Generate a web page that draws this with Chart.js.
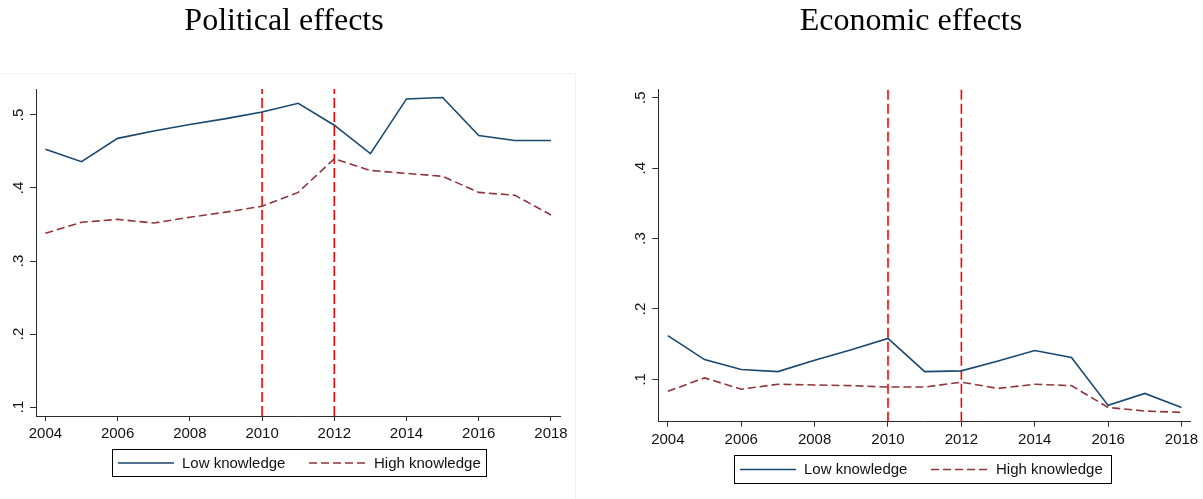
<!DOCTYPE html>
<html>
<head>
<meta charset="utf-8">
<script src="https://cdn.jsdelivr.net/npm/chart.js@4.4.1/dist/chart.umd.min.js"></script>
<style>
  html, body { margin: 0; padding: 0; background: #fff; width: 1203px; height: 499px; overflow: hidden; }
  canvas { position: absolute; top: 0; }
  #pol { left: 0; }
  #eco { left: 590px; }
</style>
</head>
<body>
<canvas id="pol" width="578" height="499"></canvas>
<canvas id="eco" width="613" height="499"></canvas>
<script>
// Survey years
const years = [2004, 2005, 2006, 2007, 2008, 2009, 2010, 2011, 2012, 2013, 2014, 2015, 2016, 2017, 2018];

// Political effects
const polLow  = [0.453, 0.436, 0.468, 0.478, 0.487, 0.495, 0.504, 0.516, 0.486, 0.447, 0.522, 0.524, 0.472, 0.465, 0.465];
const polHigh = [0.338, 0.353, 0.357, 0.352, 0.360, 0.367, 0.375, 0.394, 0.440, 0.424, 0.420, 0.416, 0.394, 0.390, 0.363];

// Economic effects
const ecoLow  = [0.162, 0.128, 0.114, 0.111, 0.127, 0.142, 0.158, 0.111, 0.112, 0.126, 0.141, 0.131, 0.063, 0.080, 0.060];
const ecoHigh = [0.083, 0.102, 0.086, 0.093, 0.092, 0.091, 0.089, 0.089, 0.096, 0.087, 0.093, 0.091, 0.060, 0.055, 0.053];

// Reference years marked with vertical lines
const markYears = [2010, 2012];

// Tick values
const xTicks = [2004, 2006, 2008, 2010, 2012, 2014, 2016, 2018];
const yTicks = [0.1, 0.2, 0.3, 0.4, 0.5];

const seriesLabels = ['Low knowledge', 'High knowledge'];
const NAVY = '#1a476f';
const MAROON = '#90353b';
const AXIS = '#2b2b2b';
const SANS = '"Liberation Sans", Arial, Helvetica, sans-serif';
const SERIF = '"Liberation Serif", "Times New Roman", serif';

// Titles, rotated y labels, boxed legend and panel frame
const panelDecor = {
  id: 'panelDecor',
  afterDraw(chart, args, o) {
    const ctx = chart.ctx;
    const ys = chart.scales.y;
    const area = chart.chartArea;
    ctx.save();

    if (o.frame) {
      ctx.strokeStyle = '#f3f3f3';
      ctx.lineWidth = 1;
      ctx.beginPath();
      ctx.moveTo(0, 73.5);
      ctx.lineTo(575.5, 73.5);
      ctx.lineTo(575.5, 499);
      ctx.stroke();
    }

    ctx.fillStyle = '#000';
    ctx.font = '32px ' + SERIF;
    ctx.textAlign = 'center';
    ctx.textBaseline = 'alphabetic';
    ctx.fillText(o.title, o.titleX, 30);

    ctx.font = '15px ' + SANS;
    ctx.fillStyle = '#111';
    ys.ticks.forEach(t => {
      const py = ys.getPixelForValue(t.value);
      ctx.save();
      ctx.translate(area.left - 13.5, py);
      ctx.rotate(-Math.PI / 2);
      ctx.textAlign = 'center';
      ctx.textBaseline = 'alphabetic';
      ctx.fillText(t.label, 0, 0);
      ctx.restore();
    });

    const L = o.legend;
    ctx.strokeStyle = '#000';
    ctx.lineWidth = 1;
    ctx.strokeRect(Math.round(L.x) + 0.5, Math.round(L.y) + 0.5, L.w, L.h);
    const cy = L.y + L.h / 2 + 0.5;
    const items = [
      { ds: chart.data.datasets[0], x0: 6, x1: 62, tx: 70 },
      { ds: chart.data.datasets[1], x0: 197, x1: 253, tx: 262 }
    ];
    items.forEach(it => {
      ctx.save();
      ctx.strokeStyle = it.ds.borderColor;
      ctx.lineWidth = it.ds.borderWidth;
      ctx.setLineDash(it.ds.borderDash || []);
      ctx.beginPath();
      ctx.moveTo(L.x + it.x0, cy);
      ctx.lineTo(L.x + it.x1, cy);
      ctx.stroke();
      ctx.restore();
      ctx.fillStyle = '#111';
      ctx.font = '15px ' + SANS;
      ctx.textAlign = 'left';
      ctx.textBaseline = 'middle';
      ctx.fillText(it.ds.label, L.x + it.tx, cy + 0.5);
    });
    ctx.restore();
  }
};

function pairs(vals) {
  return years.map((yr, i) => ({ x: yr, y: vals[i] }));
}

function makePanel(id, p) {
  const canvas = document.getElementById(id);
  const W = canvas.width, H = canvas.height;
  const datasets = [
    { label: seriesLabels[0], data: pairs(p.low), borderColor: NAVY, borderWidth: 1.6,
      pointRadius: 0, tension: 0, fill: false },
    { label: seriesLabels[1], data: pairs(p.high), borderColor: MAROON, borderWidth: 1.6,
      borderDash: [8, 4], pointRadius: 0, tension: 0, fill: false }
  ];
  markYears.forEach(yr => {
    datasets.push({ label: '', data: [{ x: yr, y: p.yMin }, { x: yr, y: p.yMax }],
      borderColor: '#ff0000', borderWidth: 1.6, borderDash: [10, 4],
      pointRadius: 0, tension: 0, fill: false });
  });

  return new Chart(canvas, {
    type: 'line',
    data: { datasets },
    options: {
      responsive: false,
      animation: false,
      events: [],
      layout: { padding: { left: 0, top: p.area.top, right: W - p.area.right, bottom: 0 } },
      plugins: {
        legend: { display: false },
        title: { display: false },
        tooltip: { enabled: false },
        panelDecor: { title: p.title, titleX: p.titleX, legend: p.legend, frame: p.frame }
      },
      scales: {
        x: {
          type: 'linear',
          min: p.xMin, max: p.xMax,
          afterBuildTicks: s => { s.ticks = xTicks.map(v => ({ value: v })); },
          afterFit: s => { s.height = H - p.area.bottom; },
          ticks: { color: '#111', font: { family: SANS, size: 15 }, padding: 4,
            maxRotation: 0, autoSkip: false, callback: v => String(v) },
          grid: { drawOnChartArea: false, drawTicks: true, tickLength: 5, color: AXIS, lineWidth: 1 },
          border: { display: true, color: AXIS, width: 1 }
        },
        y: {
          type: 'linear',
          min: p.yMin, max: p.yMax,
          afterBuildTicks: s => { s.ticks = yTicks.map(v => ({ value: v })); },
          afterFit: s => { s.width = p.area.left; },
          ticks: { color: 'rgba(0,0,0,0)', font: { family: SANS, size: 15 },
            callback: v => v.toFixed(1).replace(/^0/, '') },
          grid: { drawOnChartArea: false, drawTicks: true, tickLength: 6, color: AXIS, lineWidth: 1 },
          border: { display: true, color: AXIS, width: 1 }
        }
      }
    },
    plugins: [panelDecor]
  });
}

makePanel('pol', {
  title: 'Political effects', titleX: 284,
  low: polLow, high: polHigh,
  xMin: 2003.74, xMax: 2018.25, yMin: 0.0877, yMax: 0.5356,
  area: { left: 36, right: 560, top: 89, bottom: 416 },
  legend: { x: 112, y: 449, w: 374, h: 27 },
  frame: true
});

makePanel('eco', {
  title: 'Economic effects', titleX: 321,
  low: ecoLow, high: ecoHigh,
  xMin: 2003.74, xMax: 2018.25, yMin: 0.0398, yMax: 0.5124,
  area: { left: 68.3, right: 600.7, top: 89, bottom: 421.7 },
  legend: { x: 144, y: 455, w: 377, h: 28 },
  frame: false
});
</script>
</body>
</html>
